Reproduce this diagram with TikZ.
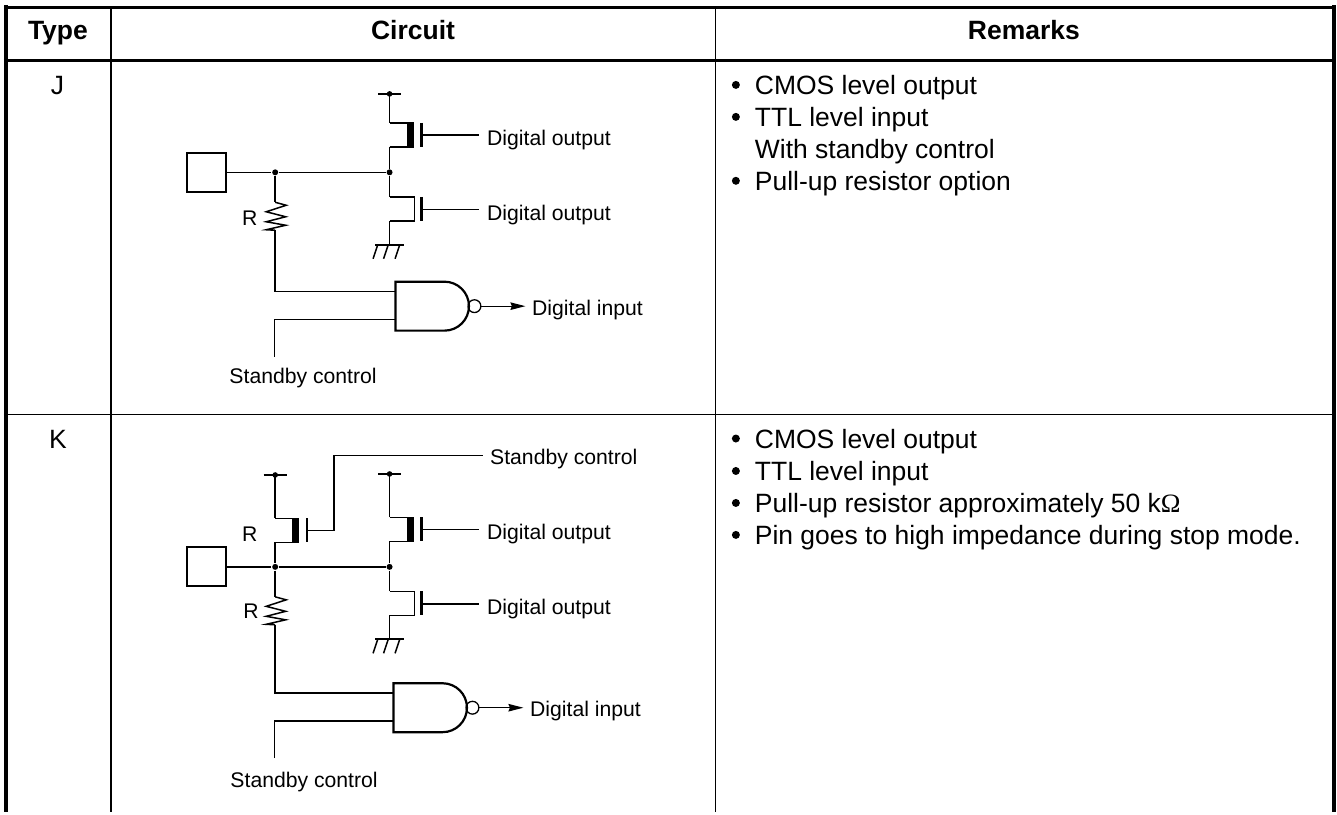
\documentclass[tikz,border=0pt]{standalone}
\usepackage{fontspec}
\setmainfont{Liberation Sans}
\newfontfamily\omegafont{Liberation Serif}
\usetikzlibrary{arrows.meta}

\begin{document}
\begin{tikzpicture}[x=1pt,y=-1pt,line width=1.5pt]
  \tikzset{big text/.style={anchor=base west,inner sep=0pt,font=\fontsize{26.5}{32}\selectfont},
    head text/.style={anchor=base,inner sep=0pt,font=\fontsize{26.5}{32}\selectfont\bfseries},
    type text/.style={anchor=base,inner sep=0pt,font=\fontsize{26.5}{32}\selectfont},
    small text/.style={anchor=base west,inner sep=0pt,font=\fontsize{21.2}{25}\selectfont},
    gate text/.style={small text,inner xsep=7pt},
    bullet/.style={circle,fill,inner sep=0pt,minimum size=8pt},
    dot/.style={circle,fill,inner sep=0pt,minimum size=6pt},
    pad/.style={draw,line width=2.2pt,minimum width=39pt,minimum height=39pt,inner sep=0pt},
    plate/.style={line width=2.2pt},
    out arrow/.style={-{Stealth[length=15pt,width=7.5pt,inset=1.5pt]},line width=1.3pt},
    pmos/.pic={\coordinate (-t) at (0,0); \coordinate (-b) at (0,24); \coordinate (-g) at (32,12);
      \draw (-t) -- (17,0); \draw (-b) -- (17,24);
      \fill (17,-0.7) rectangle (24,24.7);
      \draw[plate] (32,0) -- (32,24);},
    nmos/.pic={\coordinate (-t) at (0,0); \coordinate (-b) at (0,24); \coordinate (-g) at (32,12.5);
      \draw (-t) -- (25,0) -- (25,24) -- (-b);
      \draw[plate] (32,0) -- (32,24);},
    vdd/.pic={\coordinate (-c) at (0,0); \draw (-11.5,0) -- (11.5,0); \fill (0,0) circle (2.8pt);},
    earth/.pic={\coordinate (-c) at (0,0); \draw[plate] (-14.5,0) -- (14.5,0);
      \draw (-12,0.5) -- (-16.5,14); \draw (-1.5,0.5) -- (-6,14); \draw (10,0.5) -- (5.5,14);},
    zigzag/.pic={\coordinate (-t) at (0,0); \coordinate (-b) at (0,28);
      \draw[line join=miter] (-t) -- (11,3) -- (-9,9.5) -- (10.5,14.5) -- (-9,19.5) -- (10.5,23) -- (-9,27.5) -- (-b);},
    nand/.pic={\coordinate (-a) at (0,10); \coordinate (-c) at (0,38); \coordinate (-o) at (85.5,24.5);
      \draw[plate] (0,0) -- (49,0) arc (-90:90:24.5) -- (0,49) -- cycle;
      \draw[line width=1.3pt] (79,24.5) circle (6.4pt);}}

  % table
  \draw[line width=3pt] (4,7.5) -- (1337,7.5);
  \draw[line width=2.8pt] (4,60.5) -- (1337,60.5);
  \draw[line width=1.4pt] (4,415) -- (1337,415);
  \draw[line width=4pt] (6,5.5) -- (6,813);
  \draw[line width=3.8pt] (1335.2,5.5) -- (1335.2,813);
  \draw (111.3,7) -- (111.3,813);
  \draw (716.3,7) -- (716.3,813);
  \node[head text] (typehead) at (58,40) {Type};
  \node[head text] (circuithead) at (413.5,40) {Circuit};
  \node[head text] (remarkshead) at (1025,40) {Remarks};
  \node[type text] (typej) at (57.5,95) {J};
  \node[type text] (typek) at (58,449) {K};

  % remarks J
  \node[bullet] (bj1) at (736.7,85) {};
  \node[big text] (rj1) at (755,94.5) {CMOS level output};
  \node[bullet] (bj2) at (736.7,117) {};
  \node[big text] (rj2) at (755,126.5) {TTL level input};
  \node[big text] (rj3) at (755,158.5) {With standby control};
  \node[bullet] (bj4) at (736.7,181) {};
  \node[big text] (rj4) at (755,190.5) {Pull-up resistor option};

  % remarks K
  \node[bullet] (bk1) at (736.7,439) {};
  \node[big text] (rk1) at (755,448.5) {CMOS level output};
  \node[bullet] (bk2) at (736.7,471.5) {};
  \node[big text] (rk2) at (755,481) {TTL level input};
  \node[bullet] (bk3) at (736.7,503.5) {};
  \node[big text] (rk3) at (755,513) {Pull-up resistor approximately 50 k{\omegafont Ω}};
  \node[bullet] (bk4) at (736.7,535.5) {};
  \node[big text] (rk4) at (755,545.5) {Pin goes to high impedance during stop mode.};

  % circuit J
  \node[pad] (jpad) at (207,172.5) {};
  \node[dot] (jin) at (275.5,172.5) {};
  \node[dot] (jsw) at (390,172.5) {};
  \pic (jv) at (390,94) {vdd};
  \pic (jp) at (390,123) {pmos};
  \pic (jn) at (390,197) {nmos};
  \pic (je) at (390,245) {earth};
  \pic (jr) at (275.5,202.5) {zigzag};
  \pic (jg) at (396,282) {nand};
  \node[gate text] (jo1) at (480,146) {Digital output};
  \node[gate text] (jo2) at (480,221) {Digital output};
  \node[small text] (jo3) at (532,315.5) {Digital input};
  \node[small text] (js) at (229,384) {Standby control};
  \node[small text] (jrl) at (241.7,225.7) {R};
  \coordinate (ja) at (275.5,292);
  \coordinate (jb) at (275,320);
  \coordinate (jc) at (275,357);
  \coordinate (jt) at (526,306.5);
  \draw (jpad) -- (jin) -- (jsw);
  \draw (jv-c) -- (jp-t);
  \draw (jp-b) -- (jsw);
  \draw (jsw) -- (jn-t);
  \draw (jn-b) -- (je-c);
  \draw (jin) -- (jr-t);
  \draw (jp-g) -- (jp-g -| jo1.west);
  \draw (jn-g) -- (jn-g -| jo2.west);
  \draw (jr-b) -- (ja) -- (jg-a);
  \draw (jc) -- (jb) -- (jg-c);
  \draw[out arrow] (jg-o) -- (jt);

  % circuit K
  \node[pad] (kpad) at (207,567.5) {};
  \node[dot] (kin) at (275.5,567.5) {};
  \node[dot] (ksw) at (390,567.5) {};
  \pic (kv1) at (275.5,475.5) {vdd};
  \pic (kv2) at (390,474.5) {vdd};
  \pic (kp1) at (275.5,519) {pmos};
  \pic (kp2) at (390,518) {pmos};
  \pic (kn) at (390,592) {nmos};
  \pic (ke) at (390,640) {earth};
  \pic (kr) at (275.5,597.5) {zigzag};
  \pic (kg) at (394,684) {nand};
  \node[small text] (ks1) at (490,465) {Standby control};
  \node[gate text] (ko1) at (480,540.5) {Digital output};
  \node[gate text] (ko2) at (480,615.5) {Digital output};
  \node[small text] (ko3) at (530,717.5) {Digital input};
  \node[small text] (ks2) at (230,788) {Standby control};
  \node[small text] (krl1) at (241.7,541.7) {R};
  \node[small text] (krl2) at (243,619) {R};
  \coordinate (kq) at (334.5,531);
  \coordinate (ku) at (334.5,456);
  \coordinate (kw) at (484,456);
  \coordinate (ka) at (275.5,694);
  \coordinate (kb) at (275,722);
  \coordinate (kc) at (275,759);
  \coordinate (kt) at (524,708.5);
  \draw (kpad) -- (kin) -- (ksw);
  \draw (kv1-c) -- (kp1-t);
  \draw (kp1-b) -- (kin);
  \draw (kv2-c) -- (kp2-t);
  \draw (kp2-b) -- (ksw);
  \draw (ksw) -- (kn-t);
  \draw (kn-b) -- (ke-c);
  \draw (kin) -- (kr-t);
  \draw (kp1-g) -- (kq) -- (ku) -- (kw);
  \draw (kp2-g) -- (kp2-g -| ko1.west);
  \draw (kn-g) -- (kn-g -| ko2.west);
  \draw (kr-b) -- (ka) -- (kg-a);
  \draw (kc) -- (kb) -- (kg-c);
  \draw[out arrow] (kg-o) -- (kt);

  \useasboundingbox (0,0) rectangle (1337,813);
\end{tikzpicture}
\end{document}
